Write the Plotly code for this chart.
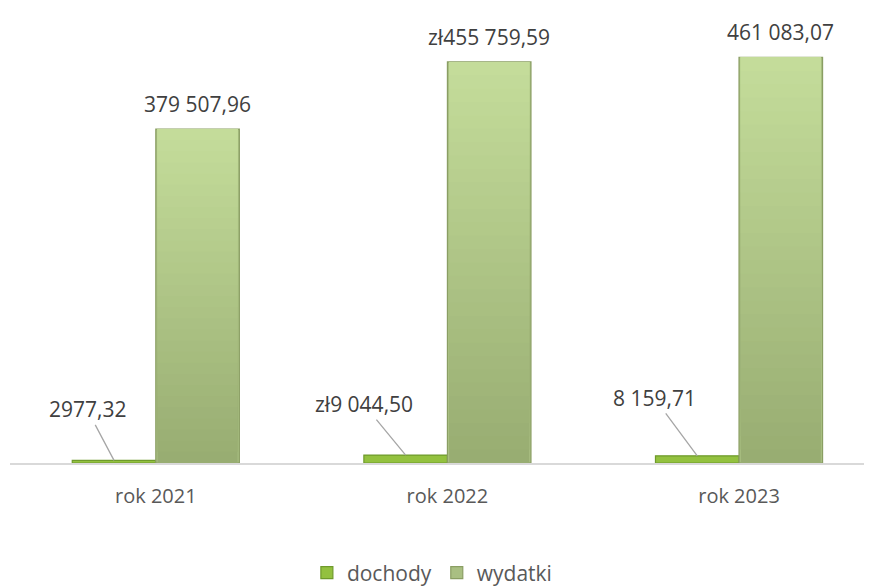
import plotly.graph_objects as go

categories = ["rok 2021", "rok 2022", "rok 2023"]
dochody = [2977.32, 9044.50, 8159.71]
wydatki = [379507.96, 455759.59, 461083.07]
dochody_labels = ["2977,32", "zł9 044,50", "8 159,71"]
wydatki_labels = ["379 507,96", "zł455 759,59", "461 083,07"]
series_names = ["dochody", "wydatki"]

FONT = "Open Sans"
BAR_W = (1 - 0.427) / 2


def mix(c1, c2, t):
    a = [int(c1[i:i + 2], 16) for i in (1, 3, 5)]
    b = [int(c2[i:i + 2], 16) for i in (1, 3, 5)]
    return "rgb(%d,%d,%d)" % tuple(round(a[j] + (b[j] - a[j]) * t) for j in range(3))


fig = go.Figure()
fig.add_trace(go.Bar(
    name=series_names[0], x=categories, y=dochody, width=BAR_W, offset=-BAR_W,
    marker=dict(color="#93c13f", line=dict(color="#6f9a2c", width=1.2)),
))
fig.add_trace(go.Bar(
    name=series_names[1], x=categories, y=wydatki, width=BAR_W, offset=0,
    marker=dict(color="#a9bf82", line=dict(color="#8a9e63", width=1.2)),
))
# vertical shading of the wydatki bars (dark bottom -> light top)
N = 30
inset = 0.006
for k in range(N):
    t = k / (N - 1)
    fig.add_trace(go.Bar(
        x=categories, y=[v * (1 - k / N) for v in wydatki], base=[v * k / N for v in wydatki],
        width=BAR_W - 2 * inset, offset=inset, showlegend=False, hoverinfo="skip",
        marker=dict(color=mix("#98ad72", "#c4dc9a", t), line=dict(width=0)),
    ))

annotations = []
for i, (v, lab) in enumerate(zip(wydatki, wydatki_labels)):
    annotations.append(dict(
        x=i + BAR_W / 2, y=v, xref="x", yref="y", text=lab, showarrow=False,
        yanchor="middle", yshift=25, font=dict(family=FONT, size=21, color="#404040"),
    ))
offsets = [(-27, -51), (-42, -51), (-43, -58)]
for i, (v, lab) in enumerate(zip(dochody, dochody_labels)):
    ax, ay = offsets[i]
    annotations.append(dict(
        x=i - BAR_W / 2, y=v, xref="x", yref="y", text=lab, showarrow=True,
        arrowhead=0, arrowwidth=1.3, arrowcolor="#a6a6a6", ax=ax, ay=ay,
        font=dict(family=FONT, size=21, color="#404040"),
    ))

fig.update_layout(
    width=872, height=587,
    margin=dict(l=2, r=8, t=15, b=120),
    paper_bgcolor="white", plot_bgcolor="white",
    barmode="overlay",
    font=dict(family=FONT, size=21, color="#595959"),
    showlegend=True,
    legend=dict(orientation="h", x=0.49, xanchor="center", y=-0.25, yanchor="middle",
                font=dict(family=FONT, size=21, color="#595959")),
    annotations=annotations,
    xaxis=dict(range=[-0.5, 2.456], showline=True, linecolor="#d9d9d9", linewidth=1.5,
               ticks="", showgrid=False, zeroline=False, ticklabelstandoff=14,
               tickfont=dict(family=FONT, size=20, color="#595959")),
    yaxis=dict(range=[0, 500000], visible=False, showgrid=False, zeroline=False),
)
fig.write_html("out.html")
